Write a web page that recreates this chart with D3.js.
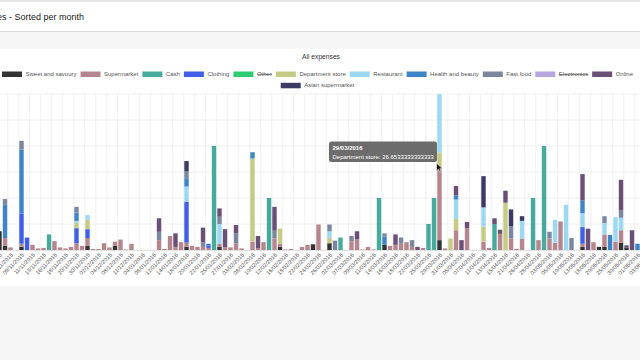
<!DOCTYPE html>
<html><head><meta charset="utf-8">
<script src="https://cdn.jsdelivr.net/npm/d3@7"></script>
<style>html,body{margin:0;padding:0;background:#f6f6f6;}svg{display:block;font-family:"Liberation Sans",Arial,sans-serif;}</style>
</head><body><svg id="c" width="640" height="360"></svg>
<script>
const dates = ["04/11/2015","05/11/2015","06/11/2015","07/11/2015","09/11/2015","10/11/2015","11/11/2015","12/11/2015","13/11/2015","14/11/2015",
"16/11/2015","17/11/2015","18/11/2015","19/11/2015","20/11/2015","23/11/2015","30/11/2015","01/12/2015","02/12/2015","03/12/2015",
"04/12/2015","07/12/2015","08/12/2015","10/12/2015","11/12/2015","14/12/2015","04/01/2016","05/01/2016","08/01/2016","11/01/2016",
"12/01/2016","13/01/2016","14/01/2016","15/01/2016","18/01/2016","19/01/2016","20/01/2016","21/01/2016","22/01/2016","23/01/2016",
"25/01/2016","26/01/2016","27/01/2016","01/02/2016","03/02/2016","05/02/2016","08/02/2016","09/02/2016","10/02/2016","11/02/2016",
"12/02/2016","15/02/2016","16/02/2016","17/02/2016","18/02/2016","19/02/2016","22/02/2016","23/02/2016","24/02/2016","25/02/2016",
"26/02/2016","29/02/2016","02/03/2016","04/03/2016","07/03/2016","08/03/2016","09/03/2016","10/03/2016","11/03/2016","12/03/2016",
"14/03/2016","15/03/2016","16/03/2016","17/03/2016","18/03/2016","21/03/2016","22/03/2016","23/03/2016","25/03/2016","26/03/2016",
"29/03/2016","30/03/2016","31/03/2016","01/04/2016","05/04/2016","06/04/2016","07/04/2016","08/04/2016","11/04/2016","12/04/2016",
"13/04/2016","14/04/2016","15/04/2016","18/04/2016","21/04/2016","25/04/2016","26/04/2016","27/04/2016","28/04/2016","02/05/2016",
"03/05/2016","04/05/2016","05/05/2016","09/05/2016","10/05/2016","12/05/2016","13/05/2016","17/05/2016","18/05/2016","19/05/2016",
"20/05/2016","23/05/2016","25/05/2016","27/05/2016","30/05/2016","31/05/2016","01/06/2016","02/06/2016","03/06/2016","07/06/2016",
"08/06/2016"];

const sweet = [36,8,0,0,6,0,0,0,0,0, 0,0,0,0,0,0,8,0,0,0, 0,8,0,0,0,0,0,0,0,0, 0,0,0,0,6,0,0,0,0,0,
 6,0,0,0,0,0,0,0,0,0, 0,6,0,0,0,0,0,11,0,0, 13,0,0,0,0,0,0,0,0,0, 10,0,0,0,0,0,0,0,0,0,
 19,0,0,0,0,0,0,0,0,0, 0,0,0,0,0,0,0,0,0,0, 0,0,0,0,0,0,6,0,0,6, 6,0,0,14,5,0,0,0,0,0, 0];
const supermarket = [0,15,5,0,6,0,10,3,4,0, 17,5,3,6,13,8,15,2,2,13, 5,8,20,1,12,0,0,0,0,19, 2,27,6,15,8,8,6,6,4,0,
 6,5,5,13,3,0,16,3,15,0, 22,6,1,2,0,6,10,0,49,0, 0,0,0,0,17,21,1,6,1,0, 0,8,10,12,15,6,0,4,0,0,
 142,3,0,38,0,42,0,0,16,4, 0,31,0,22,2,22,0,0,19,0, 22,14,55,0,0,0,6,0,15,0, 24,0,16,24,0,0,0,10,5,0, 8];
const cash = [0,0,0,0,0,0,0,0,0,30, 0,0,0,0,0,0,0,0,0,0, 0,0,0,0,0,0,0,0,0,0, 0,0,0,0,0,0,0,0,0,200,
 0,0,0,0,0,0,0,0,0,100, 0,0,0,0,0,0,0,0,0,0, 0,0,24,0,0,0,0,0,0,100, 0,0,0,0,0,0,0,0,50,100,
 0,0,0,0,0,0,0,0,0,0, 50,0,0,0,0,0,0,100,0,200, 0,0,0,0,0,0,0,0,0,0, 0,0,0,0,0,0,0,0,0,0, 0];
const clothing = [0,0,0,0,58,24,0,0,0,0, 0,0,0,0,29,0,17,0,0,0, 0,0,0,0,0,0,0,0,0,0, 0,0,0,0,79,0,0,0,5,0,
 0,0,0,0,0,0,0,0,0,0, 0,0,0,0,0,0,0,0,0,0, 0,0,0,0,0,0,0,0,0,0, 0,0,0,0,0,0,0,0,0,0,
 0,0,0,0,0,0,0,0,0,0, 0,0,0,0,0,0,0,0,0,0, 0,0,0,0,0,0,32,0,0,0, 0,0,0,0,0,0,0,0,0,0, 0];
const other = new Array(dates.length).fill(0);
const department = [0,0,0,0,0,0,0,0,0,0, 0,0,0,0,10,0,18,0,0,0, 0,0,0,0,0,0,0,0,0,0, 0,0,0,0,0,0,0,0,0,0,
 0,0,0,0,0,0,160,0,0,0, 0,29,0,0,0,0,0,0,0,0, 10,0,0,0,0,0,0,0,0,0, 0,0,0,0,0,0,0,0,0,0,
 26.6533333333333,0,22,22,0,0,0,0,29,0, 0,0,91,0,0,0,0,0,0,0, 0,0,0,0,0,0,0,0,0,0, 0,0,0,0,0,0,0,0,0,0, 0];
const restaurant = [0,0,0,0,0,0,0,0,0,0, 0,0,0,0,4,0,9,0,0,0, 0,0,0,0,0,0,0,0,0,0, 0,0,0,0,29,0,0,0,0,0,
 38,0,0,0,0,0,0,0,0,0, 0,0,0,0,0,0,0,0,0,0, 13,0,0,0,0,0,0,0,0,0, 0,0,0,0,0,0,0,0,0,0,
 112,0,0,37,0,0,0,0,37,0, 0,0,0,0,0,34,0,0,0,0, 0,44,0,87,0,0,27,0,0,0, 22,0,47,24,0,0,0,0,0,20, 0];
const health = [0,64,0,0,123,0,0,0,0,0, 0,0,0,0,16,0,0,0,0,0, 0,0,0,0,0,0,0,0,0,0, 0,0,0,0,16,0,0,0,3,0,
 0,0,0,0,0,0,12,0,0,0, 0,0,0,0,0,0,0,0,0,0, 0,0,0,0,0,0,0,0,0,0, 16,0,0,0,0,0,0,0,0,0,
 0,0,0,8,0,0,0,0,0,0, 0,0,0,0,0,0,0,0,0,0, 0,0,0,0,0,0,24,0,0,0, 0,29,0,0,0,0,12,0,0,0, 0];
const fastfood = [0,11,0,0,17,0,0,0,0,0, 0,0,0,0,11,0,0,0,0,0, 0,0,0,0,0,0,0,0,0,16, 0,0,0,0,13,0,0,9,0,0,
 14,0,0,19,0,0,0,0,0,0, 15,0,0,0,0,0,0,0,0,0, 13,18,0,0,10,0,0,0,0,0, 6,0,0,12,0,13,0,0,0,0,
 0,0,0,0,0,0,0,0,0,0, 0,0,0,24,0,0,0,0,0,0, 13,0,0,0,23,0,0,0,0,0, 13,0,0,14,0,0,0,0,0,0, 0];
const electronics = new Array(dates.length).fill(0);
const online = [0,0,0,0,0,0,0,0,0,0, 0,0,0,0,0,0,0,0,0,0, 0,0,0,0,0,0,0,0,0,26, 0,0,26,0,0,0,0,28,0,0,
 16,35,0,16,0,0,0,24,0,0, 46,0,0,0,0,0,0,0,0,0, 0,0,0,0,0,15,0,0,0,0, 0,0,20,0,0,0,6,0,0,0,
 0,0,0,18,19,12,0,0,0,0, 11,8,23,0,0,0,0,0,0,0, 0,0,0,0,0,0,51,41,0,0, 0,0,0,59,4,38,0,0,0,0, 0];
const asian = [0,0,0,0,0,0,0,0,0,0, 0,0,0,0,0,0,0,0,0,0, 0,0,0,0,0,0,0,0,0,0, 0,0,0,0,20,0,0,0,0,0,
 0,0,0,0,0,0,0,0,0,0, 0,0,0,0,0,0,0,0,0,0, 0,0,0,0,0,0,0,0,0,0, 0,0,0,0,0,0,0,0,0,0,
 0,0,0,0,0,0,0,0,60,0, 0,0,0,32,0,9,0,0,0,0, 0,0,0,0,0,0,0,0,0,0, 0,0,0,0,0,0,0,0,0,0, 0];

const seriesNames = ["Sweet and savoury","Supermarket","Cash","Clothing","Other","Department store","Restaurant","Health and beauty","Fast food","Electronics","Online","Asian supermarket"];
const seriesValues = [sweet,supermarket,cash,clothing,other,department,restaurant,health,fastfood,electronics,online,asian];
const seriesColors = ["#333333","#b5868e","#48aa9c","#3f5fe6","#2ecc71","#c5ca85","#9dd8f2","#3e84c6","#7b879e","#b7a6e0","#6a4f77","#3b3a63"];
const hiddenSeries = ["Other","Electronics"];
const yTicks = [0,50,100,150,200,250,300];
const titleText = "Expenses - Sorted per month";
const chartTitle = "All expenses";
const tooltipDate = "29/03/2016";
const tooltipSeries = "Department store";

const svg = d3.select("#c");
svg.append("rect").attr("x",0).attr("y",0).attr("width",640).attr("height",360).attr("fill","#f6f6f6");
svg.append("rect").attr("x",0).attr("y",0).attr("width",640).attr("height",31).attr("fill","#ffffff");
svg.append("rect").attr("x",0).attr("y",0).attr("width",640).attr("height",2).attr("fill","#e4e4e4");
svg.append("rect").attr("x",0).attr("y",31).attr("width",640).attr("height",1).attr("fill","#dcdcdc");
svg.append("rect").attr("x",0).attr("y",49).attr("width",640).attr("height",237).attr("fill","#ffffff");

svg.append("text").attr("x",84).attr("y",19.5).attr("text-anchor","end").attr("font-size",9).attr("fill","#222").text(titleText);
svg.append("text").attr("x",321).attr("y",59).attr("text-anchor","middle").attr("font-size",6.7).attr("fill","#333").text(chartTitle);

const step = 5.5;
const x0 = -3.25;
const x = d3.scaleBand().domain(dates).range([x0, x0 + step*dates.length]).paddingInner(0).paddingOuter(0);
const y = d3.scaleLinear().domain([0,300]).range([250,94]);

const tickDates = dates.filter((d,i)=>i%2===0);
const grid = svg.append("g");
grid.selectAll("line.v").data(tickDates).join("line")
  .attr("x1",d=>x(d)).attr("x2",d=>x(d)).attr("y1",y(300)).attr("y2",y(0))
  .attr("stroke","#ececec").attr("stroke-width",0.8);
grid.selectAll("line.h").data(yTicks).join("line")
  .attr("x1",0).attr("x2",640).attr("y1",d=>y(d)).attr("y2",d=>y(d))
  .attr("stroke","#ececec").attr("stroke-width",0.8);

const rows = dates.map((d,i)=>{const r={date:d}; seriesNames.forEach((s,k)=>{r[s]= hiddenSeries.includes(s)?0:seriesValues[k][i];}); return r;});
const stack = d3.stack().keys(seriesNames)(rows);
const color = d3.scaleOrdinal().domain(seriesNames).range(seriesColors);
const bw = 4.4;
svg.append("g").selectAll("g").data(stack).join("g").attr("fill",d=>color(d.key))
  .selectAll("rect").data(d=>d.filter(p=>p[1]-p[0]>0)).join("rect")
  .attr("x",p=>x(p.data.date)+ (x.bandwidth()-bw)/2).attr("width",bw)
  .attr("y",p=>y(p[1])).attr("height",p=>y(p[0])-y(p[1]));

const axis = d3.axisBottom(x).tickValues(tickDates).tickSize(0).tickPadding(0);
const ax = svg.append("g").attr("transform","translate(0,250)").call(axis);
ax.select(".domain").attr("stroke","#e2e2e2");
ax.selectAll("text").attr("font-size",5.6).attr("fill","#555").attr("font-family","'Liberation Sans',Arial,sans-serif")
  .attr("text-anchor","end").attr("dy","0.35em").attr("y",0)
  .attr("transform","translate(1.5,4) rotate(-45)");

// legend: first row holds all but the last item, second row the last
const leg = svg.append("g");
const items = [];
seriesNames.forEach((s,k)=>{
  const g = leg.append("g");
  g.append("rect").attr("width",20).attr("height",5.5).attr("y",-4.5).attr("fill",seriesColors[k]);
  const t = g.append("text").attr("x",23.5).attr("y",0).attr("font-size",6).attr("fill","#555").text(s);
  if (hiddenSeries.includes(s)) t.attr("text-decoration","line-through");
  items.push({g, tw: t.node().getComputedTextLength()});
});
const legRows = [items.slice(0, items.length-1), items.slice(items.length-1)];
const rowSpan = 631;
const r1 = legRows[0];
const gap = (rowSpan - d3.sum(r1, it=>it.tw + 23.5)) / (r1.length-1);
legRows.forEach((r,ri)=>{
  const tw = d3.sum(r,it=>it.tw+23.5) + gap*(r.length-1);
  let cx = 317.5 - tw/2;
  r.forEach(it=>{ it.g.attr("transform",`translate(${cx},${76+ri*11.3})`); cx += it.tw + 23.5 + gap; });
});

const tip = svg.append("g").attr("transform","translate(329,141.5)");
tip.append("rect").attr("width",108).attr("height",20.5).attr("rx",2.5).attr("fill","#5f5f5f").attr("opacity",0.92);
tip.append("text").attr("x",3.5).attr("y",8).attr("font-size",6).attr("font-weight","bold").attr("fill","#fff").text(tooltipDate);
const dv = department[dates.indexOf(tooltipDate)];
tip.append("text").attr("x",3.5).attr("y",17).attr("font-size",6).attr("fill","#fff").text(tooltipSeries + ": " + dv);

svg.append("path").attr("transform","translate(436.5,163)")
  .attr("d","M0,0 L0,8 L2,6.2 L3.4,9.2 L4.6,8.6 L3.3,5.7 L5.8,5.7 Z")
  .attr("fill","#111").attr("stroke","#fff").attr("stroke-width",0.6);
</script></body></html>
